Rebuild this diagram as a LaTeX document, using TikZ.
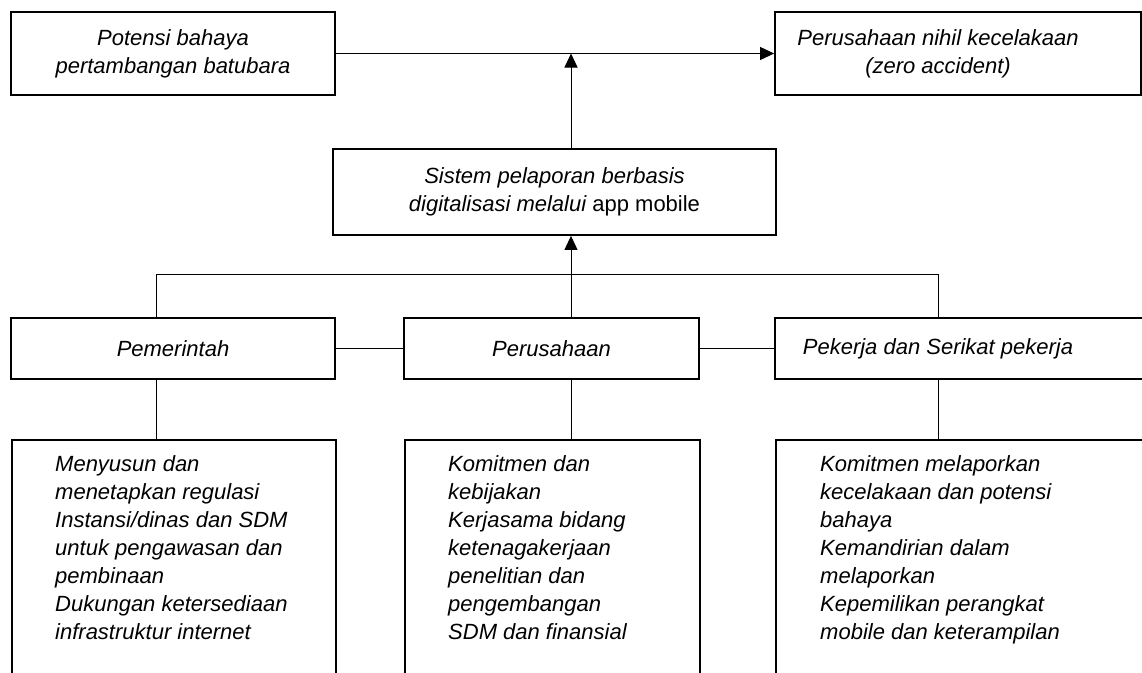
\documentclass[tikz,border=0pt]{standalone}
\usepackage{fontspec}
\setmainfont{Liberation Sans}
\usetikzlibrary{arrows.meta}

\tikzset{
	kotak/.style={draw, line width=1.8pt, inner sep=0pt},
	teks/.style={font=\fontsize{22}{28}\selectfont\itshape, align=center, inner sep=0pt},
	daftar/.style={font=\fontsize{22}{28}\selectfont\itshape, align=left, inner sep=0pt, anchor=north west},
	panah/.style={line width=1pt, -{Triangle[length=14pt,width=13pt]}},
	garis/.style={line width=1pt}
}

\begin{document}
\begin{tikzpicture}[x=1pt, y=-1pt]
	\useasboundingbox (0,0) rectangle (1142,672);
	% baris atas
	\node[kotak, teks, minimum width=324, minimum height=83] (potensi) at (173,53.5) {Potensi bahaya\\pertambangan batubara};
	\node[kotak, minimum width=366, minimum height=83] (nihil) at (958,53.5) {};
	\node[teks] (nihilTeks) at (938,53.5) {Perusahaan nihil kecelakaan\\(zero accident)};
	\node[kotak, teks, minimum width=443, minimum height=86] (sistem) at (554.5,192) {Sistem pelaporan berbasis\\digitalisasi melalui {\upshape app mobile}};

	% baris tengah
	\node[kotak, teks, minimum width=324, minimum height=61] (pemerintah) at (173,348.5) {Pemerintah};
	\node[kotak, teks, minimum width=295, minimum height=61] (perusahaan) at (551.5,348.5) {Perusahaan};
	\node[kotak, minimum width=380, minimum height=61] (pekerja) at (965,348.5) {};
	\node[teks] (pekerjaTeks) at (938,348.5) {Pekerja dan Serikat pekerja};

	% kotak bawah
	\node[kotak, anchor=north west, minimum width=324, minimum height=260] (tugasPem) at (11,439) {};
	\node[kotak, anchor=north west, minimum width=295, minimum height=260] (tugasPer) at (404,439) {};
	\node[kotak, anchor=north west, minimum width=380, minimum height=260] (tugasPek) at (775,439) {};
	\node[daftar] (isiPem) at (55,455) {Menyusun dan\\menetapkan regulasi\\Instansi/dinas dan SDM\\untuk pengawasan dan\\pembinaan\\Dukungan ketersediaan\\infrastruktur internet};
	\node[daftar] (isiPer) at (448,455) {Komitmen dan\\kebijakan\\Kerjasama bidang\\ketenagakerjaan\\penelitian dan\\pengembangan\\SDM dan finansial};
	\node[daftar] (isiPek) at (820,455) {Komitmen melaporkan\\kecelakaan dan potensi\\bahaya\\Kemandirian dalam\\melaporkan\\Kepemilikan perangkat\\mobile dan keterampilan};

	% titik cabang
	\coordinate (kiri) at (156,274);
	\coordinate (cabang) at (571,274);
	\coordinate (kanan) at (938,274);

	% penghubung
	\draw[panah] (potensi.east) -- (nihil.west);
	\draw[panah] (sistem.north -| cabang) -- (cabang |- potensi.east);
	\draw[panah] (perusahaan.north -| cabang) -- (cabang |- sistem.south);
	\draw[garis] (kiri |- pemerintah.north) -- (kiri) -- (kanan) -- (kanan |- pekerja.north);
	\draw[garis] (pemerintah) -- (perusahaan);
	\draw[garis] (perusahaan) -- (pekerja);
	\draw[garis] (kiri |- pemerintah.south) -- (kiri |- tugasPem.north);
	\draw[garis] (cabang |- perusahaan.south) -- (cabang |- tugasPer.north);
	\draw[garis] (kanan |- pekerja.south) -- (kanan |- tugasPek.north);
\end{tikzpicture}
\end{document}
